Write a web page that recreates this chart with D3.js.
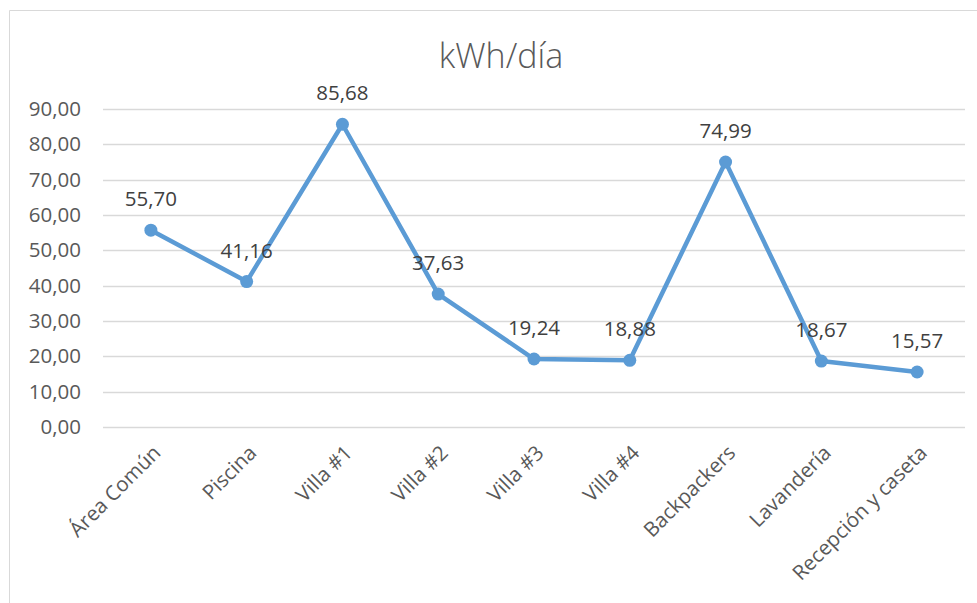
<!DOCTYPE html>
<html>
<head>
<meta charset="utf-8">
<script src="https://cdn.jsdelivr.net/npm/d3@7"></script>
<style>
  body { margin: 0; background: #fff; }
  text { font-family: "Open Sans", "Noto Sans", sans-serif; }
</style>
</head>
<body>
<svg id="chart" width="977" height="603"></svg>
<script>
var categories = ["Área Común", "Piscina", "Villa #1", "Villa #2", "Villa #3", "Villa #4", "Backpackers", "Lavandería", "Recepción y caseta"];
var values = [55.70, 41.16, 85.68, 37.63, 19.24, 18.88, 74.99, 18.67, 15.57];
var yTicks = [0, 10, 20, 30, 40, 50, 60, 70, 80, 90];
var title = "kWh/día";

var width = 977, height = 603;
var margin = {left: 103, right: 12, top: 109, bottom: 176};
var svg = d3.select("#chart");

// chart frame (top + left only visible)
svg.append("line")
  .attr("x1", 9.5).attr("x2", width)
  .attr("y1", 10.5).attr("y2", 10.5)
  .attr("stroke", "#d9d9d9");
svg.append("line")
  .attr("x1", 9.5).attr("x2", 9.5)
  .attr("y1", 10.5).attr("y2", height)
  .attr("stroke", "#d9d9d9");

var x = d3.scaleBand()
  .domain(categories)
  .range([margin.left, width - margin.right]);

var y = d3.scaleLinear()
  .domain([0, 90])
  .range([height - margin.bottom, margin.top]);

function fmt(v) {
  return v.toFixed(2).replace(".", ",");
}

// gridlines
svg.append("g")
  .selectAll("line")
  .data(yTicks)
  .enter()
  .append("line")
  .attr("x1", margin.left)
  .attr("x2", width - margin.right)
  .attr("y1", function(d) { return Math.round(y(d)) + 0.5; })
  .attr("y2", function(d) { return Math.round(y(d)) + 0.5; })
  .attr("stroke", "#d9d9d9")
  .attr("stroke-width", 1.5);

// y axis labels
var yAxis = d3.axisLeft(y)
  .tickValues(yTicks)
  .tickSize(0)
  .tickPadding(0)
  .tickFormat(fmt);
var gy = svg.append("g")
  .attr("transform", "translate(81,0)")
  .call(yAxis);
gy.select(".domain").remove();
gy.selectAll("text")
  .attr("font-size", "20.5px")
  .attr("fill", "#595959")
  .attr("font-family", "'Open Sans', sans-serif");

// x axis labels
var xAxis = d3.axisBottom(x).tickSize(0).tickPadding(0);
var gx = svg.append("g")
  .attr("transform", "translate(0," + (height - margin.bottom) + ")")
  .call(xAxis);
gx.select(".domain").remove();
gx.selectAll("text")
  .attr("font-size", "20.5px")
  .attr("fill", "#595959")
  .attr("font-family", "'Open Sans', sans-serif")
  .attr("text-anchor", "end")
  .attr("dy", "0.35em")
  .attr("transform", "translate(6,22) rotate(-45)");

// line
var line = d3.line()
  .x(function(d, i) { return x(categories[i]) + x.bandwidth() / 2; })
  .y(function(d) { return y(d); });

svg.append("path")
  .datum(values)
  .attr("d", line)
  .attr("fill", "none")
  .attr("stroke", "#5b9bd5")
  .attr("stroke-width", 4.5)
  .attr("stroke-linejoin", "round");

svg.append("g")
  .selectAll("circle")
  .data(values)
  .enter()
  .append("circle")
  .attr("cx", function(d, i) { return x(categories[i]) + x.bandwidth() / 2; })
  .attr("cy", function(d) { return y(d); })
  .attr("r", 6.5)
  .attr("fill", "#5b9bd5");

// data labels
svg.append("g")
  .selectAll("text")
  .data(values)
  .enter()
  .append("text")
  .attr("x", function(d, i) { return x(categories[i]) + x.bandwidth() / 2; })
  .attr("y", function(d) { return y(d) - 24; })
  .attr("text-anchor", "middle")
  .attr("font-size", "20.5px")
  .attr("fill", "#404040")
  .text(function(d) { return fmt(d); });

// title
svg.append("text")
  .attr("x", 501)
  .attr("y", 68)
  .attr("text-anchor", "middle")
  .attr("font-size", "34px")
  .attr("font-weight", 300)
  .attr("fill", "#595959")
  .text(title);
</script>
</body>
</html>
